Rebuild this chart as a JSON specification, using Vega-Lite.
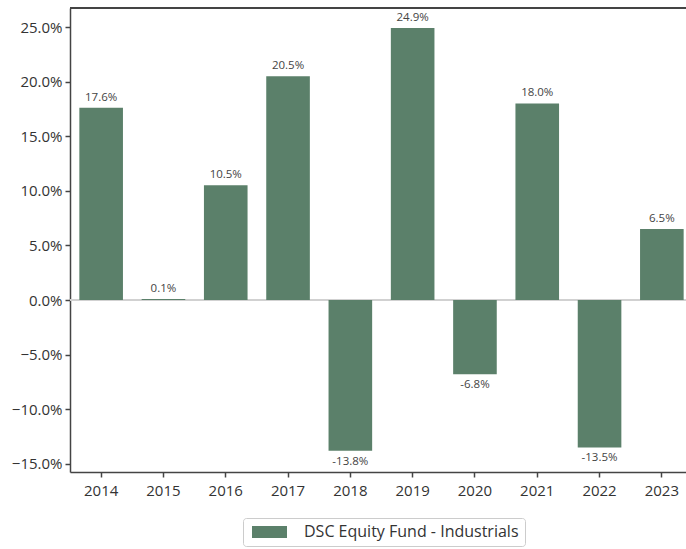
{
  "$schema": "https://vega.github.io/schema/vega-lite/v6.json",
  "width": 616,
  "height": 464,
  "autosize": {"type": "none"},
  "padding": {"left": 70, "top": 8, "right": 0, "bottom": 77},
  "background": "white",
  "config": {
    "font": "Open Sans",
    "view": {"stroke": null},
    "axis": {"labelFont": "Open Sans", "labelFontSize": 15, "labelColor": "#333", "domainColor": "#444", "domainWidth": 1.5, "tickColor": "#444", "tickWidth": 1.5, "tickSize": 5, "grid": false, "title": null}
  },
  "data": {"values": [
    {"year": "2014", "value": 0.176, "label": "17.6%", "series": "DSC Equity Fund - Industrials"},
    {"year": "2015", "value": 0.001, "label": "0.1%", "series": "DSC Equity Fund - Industrials"},
    {"year": "2016", "value": 0.105, "label": "10.5%", "series": "DSC Equity Fund - Industrials"},
    {"year": "2017", "value": 0.205, "label": "20.5%", "series": "DSC Equity Fund - Industrials"},
    {"year": "2018", "value": -0.138, "label": "-13.8%", "series": "DSC Equity Fund - Industrials"},
    {"year": "2019", "value": 0.249, "label": "24.9%", "series": "DSC Equity Fund - Industrials"},
    {"year": "2020", "value": -0.068, "label": "-6.8%", "series": "DSC Equity Fund - Industrials"},
    {"year": "2021", "value": 0.180, "label": "18.0%", "series": "DSC Equity Fund - Industrials"},
    {"year": "2022", "value": -0.135, "label": "-13.5%", "series": "DSC Equity Fund - Industrials"},
    {"year": "2023", "value": 0.065, "label": "6.5%", "series": "DSC Equity Fund - Industrials"}
  ]},
  "encoding": {
    "x": {"field": "year", "type": "nominal", "scale": {"range": [0, 623], "paddingInner": 0.3, "paddingOuter": 0.15}, "axis": {"labelAngle": 0, "labelPadding": 6}},
    "y": {"field": "value", "type": "quantitative", "scale": {"domain": [-0.1575, 0.2674], "nice": false, "zero": false}, "axis": {"values": [-0.15, -0.1, -0.05, 0, 0.05, 0.1, 0.15, 0.2, 0.25], "format": ".1%", "labelPadding": 3}}
  },
  "layer": [
    {
      "mark": {"type": "rule", "color": "#d0d0d0", "strokeWidth": 1.5},
      "encoding": {"x": {"value": 0}, "x2": {"value": 616}, "y": {"datum": 0}}
    },
    {
      "mark": {"type": "rule", "color": "#444", "strokeWidth": 1.5},
      "encoding": {"x": {"value": 0}, "x2": {"value": 616}, "y": {"datum": 0.2674}}
    },
    {
      "mark": {"type": "bar"},
      "encoding": {
        "color": {"field": "series", "type": "nominal", "scale": {"range": ["#5b806a"]},
          "legend": {"orient": "none", "legendX": 173, "legendY": 510, "title": null, "direction": "horizontal", "labelFontSize": 16, "labelColor": "#333", "labelFont": "Open Sans", "labelLimit": 400, "symbolType": "M-1,-1.2H6V1.2H-1Z", "symbolSize": 100, "symbolStrokeWidth": 0, "symbolOpacity": 1, "strokeColor": "#ccc", "padding": 6, "cornerRadius": 3, "labelOffset": 39, "fillColor": "white"}}
      }
    },
    {
      "transform": [{"filter": "datum.value >= 0"}],
      "mark": {"type": "text", "baseline": "bottom", "dy": -5, "fontSize": 11.5, "color": "#444", "font": "Open Sans"},
      "encoding": {"text": {"field": "label"}}
    },
    {
      "transform": [{"filter": "datum.value < 0"}],
      "mark": {"type": "text", "baseline": "top", "dy": 5, "fontSize": 11.5, "color": "#444", "font": "Open Sans"},
      "encoding": {"text": {"field": "label"}}
    }
  ]
}
